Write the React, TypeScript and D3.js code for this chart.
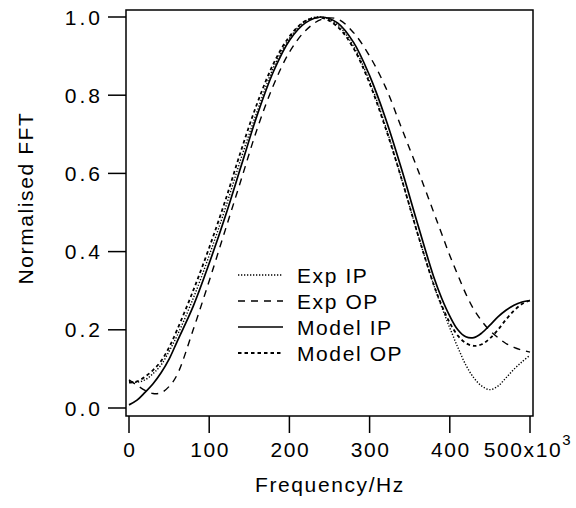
import React from "react";
import * as d3 from "d3";

// Frequency in kHz (axis shows x10^3 Hz)
const freq = [0, 10, 20, 30, 40, 50, 60, 80, 100, 120, 140, 160, 180, 200, 220, 240, 260, 280, 300, 320, 340, 360, 380, 390, 400, 410, 420, 430, 440, 450, 460, 470, 480, 490, 500];

const expIP = [0.068, 0.066, 0.072, 0.088, 0.11, 0.145, 0.185, 0.28, 0.39, 0.51, 0.64, 0.76, 0.87, 0.945, 0.99, 1.0, 0.98, 0.925, 0.835, 0.72, 0.585, 0.445, 0.315, 0.258, 0.205, 0.155, 0.11, 0.077, 0.056, 0.047, 0.056, 0.077, 0.099, 0.118, 0.135];
const expOP = [0.072, 0.058, 0.045, 0.037, 0.039, 0.055, 0.085, 0.2, 0.325, 0.455, 0.585, 0.715, 0.825, 0.91, 0.965, 0.994, 0.995, 0.96, 0.9, 0.82, 0.715, 0.61, 0.5, 0.445, 0.39, 0.34, 0.292, 0.252, 0.222, 0.198, 0.18, 0.165, 0.155, 0.148, 0.143];
const modelIP = [0.008, 0.02, 0.04, 0.062, 0.09, 0.125, 0.17, 0.26, 0.37, 0.49, 0.62, 0.75, 0.86, 0.94, 0.985, 1.0, 0.985, 0.935, 0.85, 0.74, 0.61, 0.47, 0.335, 0.28, 0.235, 0.2, 0.182, 0.18, 0.192, 0.212, 0.233, 0.25, 0.263, 0.271, 0.275];
const modelOP = [0.065, 0.068, 0.08, 0.097, 0.12, 0.155, 0.2, 0.3, 0.41, 0.53, 0.66, 0.78, 0.88, 0.95, 0.99, 0.998, 0.975, 0.92, 0.83, 0.715, 0.585, 0.445, 0.315, 0.262, 0.218, 0.185, 0.166, 0.159, 0.163, 0.178, 0.2, 0.226, 0.249, 0.266, 0.275];

const seriesNames = ["Exp IP", "Exp OP", "Model IP", "Model OP"];
const xTicks = [0, 100, 200, 300, 400, 500];
const yTicks = [0.0, 0.2, 0.4, 0.6, 0.8, 1.0];

const styles = [
  { dash: "1.3,1.7", width: 1.4 },
  { dash: "7,6", width: 1.4 },
  { dash: "none", width: 1.7 },
  { dash: "3.5,3", width: 1.8 },
];

export default function App() {
  const x = d3.scaleLinear().domain([0, 500]).range([129, 530]);
  const y = d3.scaleLinear().domain([0, 1]).range([408, 17]);
  const frame = { l: 126, r: 533, t: 10, b: 416 };
  const font = "'Liberation Sans', Arial, Helvetica, sans-serif";
  const all = [expIP, expOP, modelIP, modelOP];
  const line = d3
    .line<number>()
    .x((_, i) => x(freq[i]))
    .y((d) => y(d))
    .curve(d3.curveCatmullRom.alpha(0.5));

  return (
    <svg
      width={576}
      height={508}
      style={{ position: "absolute", left: 0, top: 0, background: "#fff" }}
      fontFamily={font}
    >
      <rect x={0} y={0} width={576} height={508} fill="#fff" />
      {all.map((s, i) => (
        <path
          key={i}
          d={line(s) || ""}
          fill="none"
          stroke="#000"
          strokeWidth={styles[i].width}
          strokeDasharray={styles[i].dash}
        />
      ))}
      <rect
        x={frame.l}
        y={frame.t}
        width={frame.r - frame.l}
        height={frame.b - frame.t}
        fill="none"
        stroke="#000"
        strokeWidth={1.5}
      />
      {yTicks.map((t) => (
        <g key={t}>
          <line x1={108} x2={frame.l} y1={y(t)} y2={y(t)} stroke="#000" strokeWidth={1.5} />
          <text x={103} y={y(t) + 7.5} textAnchor="end" fontSize={21} letterSpacing={3}>
            {t.toFixed(1)}
          </text>
        </g>
      ))}
      {xTicks.map((t) => (
        <g key={t}>
          <line x1={x(t)} x2={x(t)} y1={frame.b} y2={433} stroke="#000" strokeWidth={1.5} />
          {t === 500 ? (
            <text x={x(t) - 2} y={457} textAnchor="middle" fontSize={21} letterSpacing={1.6}>
              {"500x10"}
              <tspan dy={-12} fontSize={15}>3</tspan>
            </text>
          ) : (
            <text x={x(t) + 1} y={457} textAnchor="middle" fontSize={21} letterSpacing={1.6}>
              {String(t)}
            </text>
          )}
        </g>
      ))}
      <text x={330} y={492} textAnchor="middle" fontSize={21} letterSpacing={1.6}>
        Frequency/Hz
      </text>
      <text
        transform={`translate(33,198) rotate(-90)`}
        textAnchor="middle"
        fontSize={21}
        letterSpacing={1.6}
      >
        Normalised FFT
      </text>
      {seriesNames.map((n, i) => {
        const ly = 275 + i * 26;
        return (
          <g key={n}>
            <line
              x1={238}
              x2={283}
              y1={ly}
              y2={ly}
              stroke="#000"
              strokeWidth={styles[i].width}
              strokeDasharray={styles[i].dash}
            />
            <text x={297} y={ly + 7.5} fontSize={21} letterSpacing={1.6}>
              {n}
            </text>
          </g>
        );
      })}
    </svg>
  );
}
